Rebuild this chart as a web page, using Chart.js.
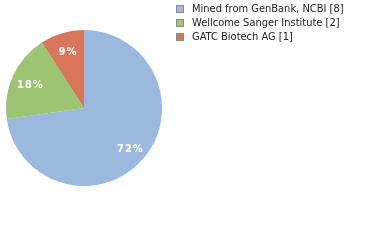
<!DOCTYPE html>
<html><head><meta charset="utf-8">
<script src="https://cdn.jsdelivr.net/npm/chart.js@4/dist/chart.umd.min.js"></script>
<style>html,body{margin:0;padding:0;background:#fff;}#c{display:block;}</style>
</head><body>
<canvas id="c" width="380" height="240"></canvas>
<script>
const categories = ["Mined from GenBank, NCBI", "Wellcome Sanger Institute", "GATC Biotech AG"];
const counts = [8, 2, 1];
const colors = ["#9bb9df", "#9dc473", "#d97659"];

const total = counts.reduce((a, b) => a + b, 0);

const overlay = {
  id: 'overlay',
  afterDraw(chart) {
    const ctx = chart.ctx;
    const meta = chart.getDatasetMeta(0);
    ctx.save();
    // percent labels
    ctx.fillStyle = '#ffffff';
    ctx.font = '600 10px "DejaVu Sans"';
    ctx.textAlign = 'center';
    ctx.textBaseline = 'middle';
    try { ctx.letterSpacing = '1px'; } catch (e) {}
    meta.data.forEach((arc, i) => {
      const p = arc.getProps(['x', 'y', 'startAngle', 'endAngle', 'outerRadius'], true);
      const mid = (p.startAngle + p.endAngle) / 2;
      const r = p.outerRadius * 0.77;
      const pct = Math.floor(counts[i] / total * 100) + '%';
      ctx.fillText(pct, p.x + Math.cos(mid) * r + 1, p.y + Math.sin(mid) * r + 2);
    });
    try { ctx.letterSpacing = '0px'; } catch (e) {}
    // legend
    ctx.textAlign = 'left';
    ctx.textBaseline = 'middle';
    ctx.font = '11px "DejaVu Sans Condensed", "DejaVu Sans"';
    categories.forEach((c, i) => {
      const y = 9 + i * 14;
      ctx.fillStyle = colors[i];
      ctx.fillRect(176.5, y - 3.5, 7, 7);
      ctx.strokeStyle = '#8a8a8a';
      ctx.lineWidth = 1;
      ctx.strokeRect(176.5, y - 3.5, 7, 7);
      ctx.fillStyle = '#222222';
      ctx.fillText(c + ' [' + counts[i] + ']', 192, y);
    });
    ctx.restore();
  }
};

new Chart(document.getElementById('c'), {
  type: 'pie',
  data: {
    labels: categories,
    datasets: [{ data: counts, backgroundColor: colors, borderWidth: 0 }]
  },
  options: {
    responsive: false,
    animation: false,
    layout: { padding: { left: 6, right: 218, top: 30, bottom: 54 } },
    plugins: { legend: { display: false }, tooltip: { enabled: false } }
  },
  plugins: [overlay]
});
</script>
</body></html>
